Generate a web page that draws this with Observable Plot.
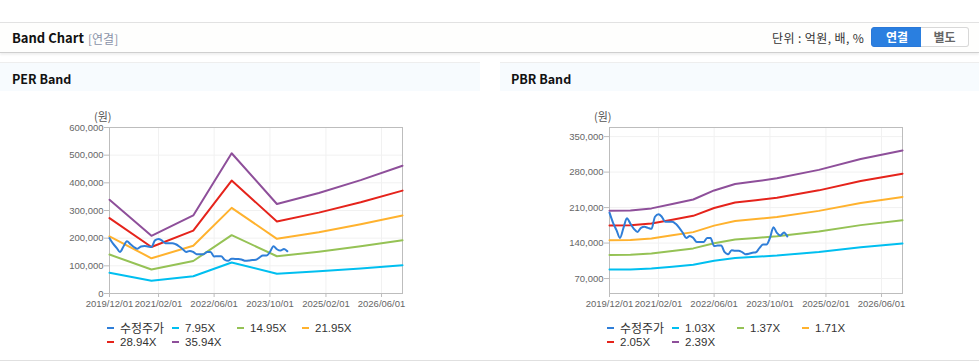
<!DOCTYPE html>
<html><head><meta charset="utf-8">
<script src="https://cdn.jsdelivr.net/npm/d3@7"></script>
<script src="https://cdn.jsdelivr.net/npm/@observablehq/plot@0.6"></script>
<style>
body{margin:0;width:979px;height:362px;position:relative;background:#fff;font-family:"Liberation Sans",Arial,"Noto Sans CJK KR",sans-serif;overflow:hidden;color:#222}
.abs{position:absolute}
#hdr{left:0;top:22px;width:979px;height:29px;border-top:1px solid #e2e2e2;border-bottom:1px solid #cfcfcf;background:#fefefd;box-shadow:0 2px 2px rgba(0,0,0,0.06)}
.ttl{font-weight:bold;font-size:13px;color:#111;font-family:"Noto Sans CJK KR","Liberation Sans",sans-serif}
.panel{top:62px;height:28px;border-top:1px solid #eeeeee;background:#f7fbfe}
.btn{top:27px;height:18px;line-height:18px;text-align:center;font-size:12px;font-weight:bold;font-family:"Noto Sans CJK KR",sans-serif}
.leg{font-size:11.5px;color:#333;line-height:14px;white-space:nowrap}
.mk{position:absolute;width:7px;height:2px}
.unit{font-size:11px;color:#555;font-family:"Noto Sans CJK KR",sans-serif}
</style></head><body>
<div id="hdr" class="abs"></div>
<div class="abs ttl" style="left:12px;top:28px;">Band Chart</div>
<div class="abs" style="left:88px;top:30px;font-size:12px;color:#8a93a8;font-family:'Noto Sans CJK KR',sans-serif">[연결]</div>
<div class="abs" style="left:772px;top:29px;font-size:12px;color:#333;letter-spacing:0.4px;white-space:pre;font-family:'Noto Sans CJK KR',sans-serif">단위 : 억원, 배, %</div>
<div class="abs btn" style="left:871px;width:50px;background:#2a7fe0;color:#fff;border:1px solid #2a78d8;border-radius:3px 0 0 3px;">연결</div>
<div class="abs btn" style="left:921px;width:47px;background:#fff;color:#666;border:1px solid #d8d8d8;border-left:none;border-radius:0 3px 3px 0;">별도</div>
<div class="abs panel" style="left:0;width:480px"></div>
<div class="abs panel" style="left:500px;width:479px"></div>
<div class="abs ttl" style="left:12px;top:69px;font-size:12.5px">PER Band</div>
<div class="abs ttl" style="left:511px;top:69px;font-size:12.5px">PBR Band</div>
<div class="abs" style="left:0;top:360px;width:979px;border-top:1px solid #e0e0e0"></div>
<div class="abs unit" style="left:94px;top:108px">(원)</div>
<div class="abs unit" style="left:594px;top:108px">(원)</div>
<div id="per" class="abs" style="left:0;top:100px"></div>
<div id="pbr" class="abs" style="left:500px;top:100px"></div>
<div id="legPer" class="abs" style="left:0;top:0"></div>
<div id="legPbr" class="abs" style="left:500px;top:0"></div>
<script>
// ---- data ----
const xTicks = ["2019-12-01","2021-02-01","2022-06-01","2023-10-01","2025-02-01","2026-06-01"];
const xDomain = ["2019-12-01","2026-12-01"];
const priceLabel = "수정주가";
const priceMonths = ["2019-12","2020-01","2020-02","2020-03","2020-04","2020-05","2020-06","2020-07","2020-08","2020-09","2020-10","2020-11",
  "2020-12","2021-01","2021-02","2021-03","2021-04","2021-05","2021-06","2021-07","2021-08","2021-09","2021-10","2021-11",
  "2021-12","2022-01","2022-02","2022-03","2022-04","2022-05","2022-06","2022-07","2022-08","2022-09","2022-10","2022-11",
  "2022-12","2023-01","2023-02","2023-03","2023-04","2023-05","2023-06","2023-07","2023-08","2023-09","2023-10","2023-11",
  "2023-12","2024-01","2024-02","2024-03"];
const prices = [200000,180000,165000,150000,170000,189000,178000,168000,162000,170000,172000,170000,
  168000,192000,197000,192000,182000,182000,182000,178000,170000,160000,150000,154000,
  150000,142000,142000,142000,150000,150000,134000,135000,135000,122000,118000,126000,
  125000,125000,122000,118000,119000,121000,122000,130000,137000,137000,150000,171000,
  160000,155000,161000,153000];

const perLabels = ["7.95X","14.95X","21.95X","28.94X","35.94X"];
const perDates = ["2019-12","2020-12","2021-12","2022-11","2023-12","2024-12","2025-12","2026-12"];
const per795  = [74900, 46100, 62400, 112100, 71600, 80300, 90600, 102200];
const per1495 = [140800, 86700, 117400, 210800, 134600, 151000, 170400, 192100];
const per2195 = [206800, 127300, 172300, 309500, 197600, 221700, 250200, 282100];
const per2894 = [272600, 167900, 227200, 408100, 260500, 292300, 329900, 371900];
const per3594 = [338600, 208500, 282100, 506800, 323500, 363000, 409700, 461800];
const perYTicks = [0,100000,200000,300000,400000,500000,600000];
const perYDomain = [0,600000];

const pbrLabels = ["1.03X","1.37X","1.71X","2.05X","2.39X"];
const pbrDates = ["2019-12","2020-06","2020-12","2021-06","2021-12","2022-06","2022-12","2023-06","2023-12","2024-12","2025-12","2026-12"];
const pbr103 = [87800, 88000, 89800, 93500, 97300, 105100, 110500, 112900, 115400, 122600, 131800, 139100];
const pbr137 = [116700, 117000, 119500, 124400, 129500, 139700, 147000, 150200, 153400, 163000, 175400, 185000];
const pbr171 = [145700, 146000, 149100, 155300, 161600, 174400, 183500, 187400, 191500, 203500, 218900, 230900];
const pbr205 = [174700, 175100, 178800, 186100, 193700, 209100, 220000, 224700, 229600, 244000, 262400, 276800];
const pbr239 = [203600, 204100, 208400, 217000, 225900, 243800, 256400, 261900, 267700, 284400, 305900, 322700];
const pbrYTicks = [70000,140000,210000,280000,350000];
const pbrYDomain = [40500,368000];

const priceColor = "#2f7ed8";
const bandColors = ["#00bff0","#95c255","#ffb22e","#e5231b","#8e4f9a"];

// ---- drawing ----
const pM = d3.utcParse("%Y-%m"), pD = d3.utcParse("%Y-%m-%d");
function chart(dates, bands, yDomain, yTicks, width, mr) {
  const bd = dates.map(pM);
  const marks = [
    Plot.ruleY(yTicks, {y: d => d, stroke: "#f1f1f1"}),
    Plot.ruleX(xTicks.map(pD), {x: d => d, stroke: "#f1f1f1"}),
    Plot.frame({stroke: "#bdbdbd"}),
    Plot.axisY({ticks: yTicks, tickFormat: d3.format(","), tickSize: 5, tickPadding: 1, stroke: "#bdbdbd", fill: "#666", fontSize: 9.5, label: null}),
    Plot.axisX({ticks: xTicks.map(pD), tickFormat: d3.utcFormat("%Y/%m/%d"), tickSize: 4, tickPadding: 3, stroke: "#bdbdbd", fill: "#666", fontSize: 9.5, label: null})
  ];
  bands.forEach((vals, i) => {
    marks.push(Plot.line(vals.map((v, j) => ({d: bd[j], v})), {x: "d", y: "v", stroke: bandColors[i], strokeWidth: 2}));
  });
  marks.push(Plot.line(prices.map((v, j) => ({d: pM(priceMonths[j]), v})), {x: "d", y: "v", stroke: priceColor, strokeWidth: 2, curve: "monotone-x"}));
  return Plot.plot({
    width, height: 215, marginLeft: 109, marginRight: mr, marginTop: 27, marginBottom: 22,
    x: {type: "utc", domain: xDomain.map(pD), label: null},
    y: {domain: yDomain, label: null},
    style: {fontFamily: "'Liberation Sans', Arial, sans-serif", background: "transparent", overflow: "visible"},
    marks
  });
}
document.getElementById("per").append(chart(perDates, [per795, per1495, per2195, per2894, per3594], perYDomain, perYTicks, 480, 78));
document.getElementById("pbr").append(chart(pbrDates, [pbr103, pbr137, pbr171, pbr205, pbr239], pbrYDomain, pbrYTicks, 479, 77));

function legend(el, labels) {
  const items = [[priceLabel, priceColor]].concat(labels.map((l, i) => [l, bandColors[i]]));
  const cols = [107, 172, 237, 302];
  items.forEach(([t, c], i) => {
    const x = cols[i % 4], y = i < 4 ? 328 : 342;
    const m = document.createElement("div");
    m.className = "mk"; m.style.left = x + "px"; m.style.top = (y - 1) + "px"; m.style.background = c;
    const s = document.createElement("div");
    s.className = "abs leg"; s.style.left = (x + 13) + "px"; s.style.top = (y - 7) + "px"; s.textContent = t;
    if (i === 0) { s.style.fontFamily = "'Noto Sans CJK KR', sans-serif"; s.style.fontSize = "12px"; s.style.top = (y - 8) + "px"; s.style.lineHeight = "16px"; }
    el.append(m, s);
  });
}
legend(document.getElementById("legPer"), perLabels);
legend(document.getElementById("legPbr"), pbrLabels);
</script>
</body></html>
